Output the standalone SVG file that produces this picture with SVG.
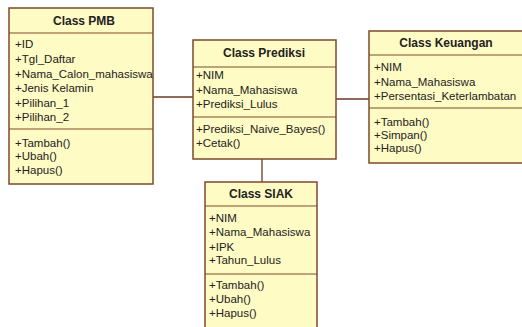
<svg xmlns="http://www.w3.org/2000/svg" width="522" height="327" viewBox="0 0 522 327">
<style>
.box{fill:#fffbc4;stroke:#7e4a2c;stroke-width:1.5}
.div{stroke:#7e4a2c;stroke-width:1.2}
.t{font-family:"Liberation Sans",Arial,sans-serif;font-size:12px;font-weight:bold;fill:#222;text-anchor:middle}
.a{font-family:"Liberation Sans",Arial,sans-serif;font-size:11.5px;fill:#222}
.c{stroke:#6b3a24;stroke-width:1.3;fill:none}
</style>
<rect width="522" height="327" fill="#ffffff"/>
<g id="connectors">
<line class="c" x1="153" y1="97" x2="193" y2="97"/>
<line class="c" x1="336" y1="99" x2="369" y2="99"/>
<line class="c" x1="262" y1="159" x2="262" y2="182"/>
</g>
<g id="pmb">
<rect class="box" x="9" y="8" width="144" height="176"/>
<line class="div" x1="9" y1="33" x2="153" y2="33"/>
<line class="div" x1="9" y1="129" x2="153" y2="129"/>
<text class="t" x="84" y="25">Class PMB</text>
<text class="a" x="15" y="48">+ID</text>
<text class="a" x="15" y="63">+Tgl_Daftar</text>
<text class="a" x="15" y="78">+Nama_Calon_mahasiswa</text>
<text class="a" x="15" y="92">+Jenis Kelamin</text>
<text class="a" x="15" y="107">+Pilihan_1</text>
<text class="a" x="15" y="121">+Pilihan_2</text>
<text class="a" x="15" y="147">+Tambah()</text>
<text class="a" x="15" y="160">+Ubah()</text>
<text class="a" x="15" y="174">+Hapus()</text>
</g>
<g id="prediksi">
<rect class="box" x="193" y="40" width="143" height="119"/>
<line class="div" x1="193" y1="67" x2="336" y2="67"/>
<line class="div" x1="193" y1="117" x2="336" y2="117"/>
<text class="t" x="264" y="57">Class Prediksi</text>
<text class="a" x="196" y="79">+NIM</text>
<text class="a" x="196" y="94">+Nama_Mahasiswa</text>
<text class="a" x="196" y="108">+Prediksi_Lulus</text>
<text class="a" x="196" y="133">+Prediksi_Naive_Bayes()</text>
<text class="a" x="196" y="147">+Cetak()</text>
</g>
<g id="keuangan">
<rect class="box" x="369" y="31" width="160" height="132"/>
<line class="div" x1="369" y1="55" x2="529" y2="55"/>
<line class="div" x1="369" y1="108" x2="529" y2="108"/>
<text class="t" x="446" y="47">Class Keuangan</text>
<text class="a" x="374" y="71">+NIM</text>
<text class="a" x="374" y="86">+Nama_Mahasiswa</text>
<text class="a" x="374" y="100">+Persentasi_Keterlambatan</text>
<text class="a" x="374" y="126">+Tambah()</text>
<text class="a" x="374" y="139">+Simpan()</text>
<text class="a" x="374" y="152">+Hapus()</text>
</g>
<g id="siak">
<rect class="box" x="205" y="182" width="112" height="150"/>
<line class="div" x1="205" y1="206" x2="317" y2="206"/>
<line class="div" x1="205" y1="274" x2="317" y2="274"/>
<text class="t" x="261" y="198">Class SIAK</text>
<text class="a" x="209" y="222">+NIM</text>
<text class="a" x="209" y="236">+Nama_Mahasiswa</text>
<text class="a" x="209" y="251">+IPK</text>
<text class="a" x="209" y="264">+Tahun_Lulus</text>
<text class="a" x="209" y="289">+Tambah()</text>
<text class="a" x="209" y="303">+Ubah()</text>
<text class="a" x="209" y="317">+Hapus()</text>
</g>
</svg>
